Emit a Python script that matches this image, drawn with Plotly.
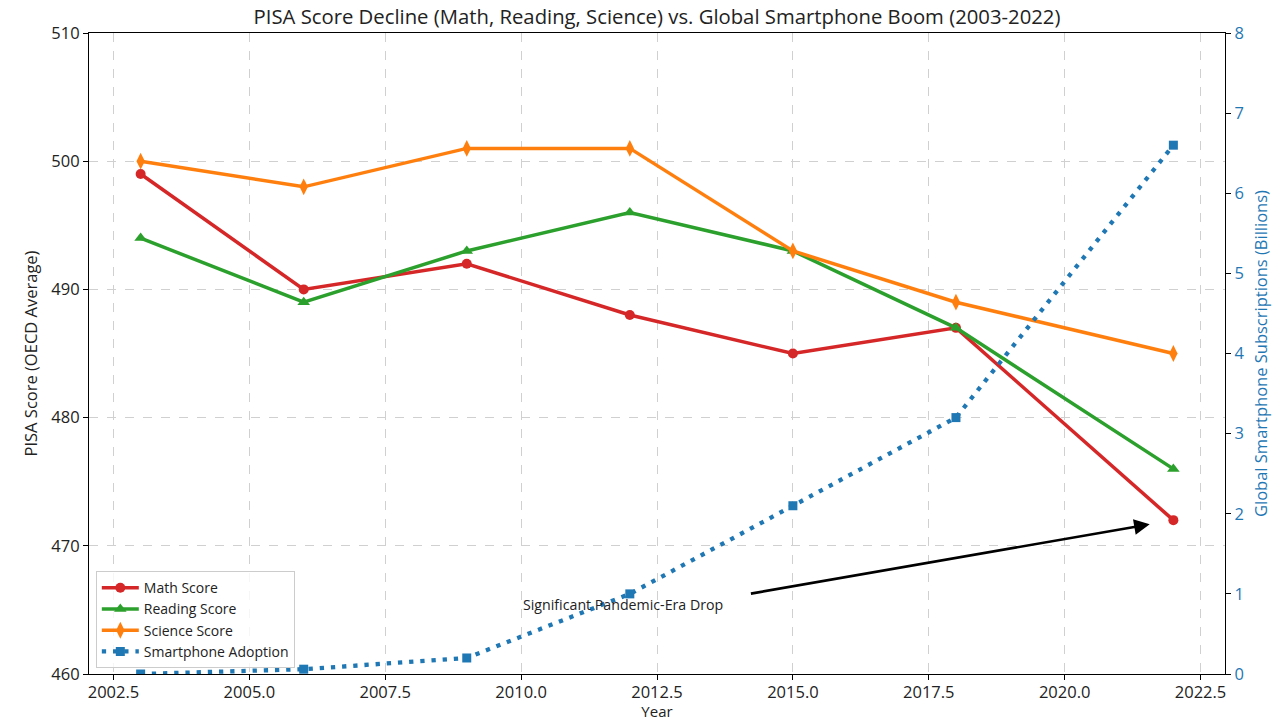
import plotly.graph_objects as go

years = [2003, 2006, 2009, 2012, 2015, 2018, 2022]
math_score = [499, 490, 492, 488, 485, 487, 472]
reading_score = [494, 489, 493, 496, 493, 487, 476]
science_score = [500, 498, 501, 501, 493, 489, 485]
smartphone_billions = [0.0, 0.06, 0.2, 1.0, 2.1, 3.2, 6.6]

x_ticks = [2002.5, 2005.0, 2007.5, 2010.0, 2012.5, 2015.0, 2017.5, 2020.0, 2022.5]
left_ticks = [460, 470, 480, 490, 500, 510]
right_ticks = [0, 1, 2, 3, 4, 5, 6, 7, 8]

FONT = "Open Sans"
TXT = "#222222"
W, H = 1284, 721
fig = go.Figure()
fig.add_trace(go.Scatter(x=years, y=math_score, name="Math Score", mode="lines+markers",
                         line=dict(color="#d62728", width=3.5),
                         marker=dict(symbol="circle", size=10, color="#d62728")))
fig.add_trace(go.Scatter(x=years, y=reading_score, name="Reading Score", mode="lines+markers",
                         line=dict(color="#2ca02c", width=3.5),
                         marker=dict(symbol="triangle-up", size=11, color="#2ca02c")))
fig.add_trace(go.Scatter(x=years, y=science_score, name="Science Score", mode="lines+markers",
                         line=dict(color="#ff7f0e", width=3.5),
                         marker=dict(symbol="diamond-tall", size=12, color="#ff7f0e")))
fig.add_trace(go.Scatter(x=years, y=smartphone_billions, name="Smartphone Adoption", mode="lines+markers",
                         yaxis="y2",
                         line=dict(color="#1f77b4", width=4.3, dash="4.3px,6.9px"),
                         marker=dict(symbol="square", size=9, color="#1f77b4")))

# annotation text (left aligned at its anchor, as in the source)
fig.add_annotation(x=2010, y=465, xref="x", yref="y", showarrow=False,
                   text="Significant Pandemic-Era Drop", xanchor="left", yanchor="bottom",
                   yshift=-6, font=dict(family=FONT, size=14.2, color=TXT))
# arrow pointing to the 2022 math score
fig.add_annotation(x=2022, y=472, xref="x", yref="y", ax=2014.2, ay=466.25, axref="x", ayref="y",
                   text="", showarrow=True,
                   arrowhead=2, arrowsize=1.2, arrowwidth=2.6, arrowcolor="black",
                   standoff=24)

axis_common = dict(showline=True, linecolor="black", linewidth=1.2,
                   ticks="outside", ticklen=5, tickcolor="black", automargin=False,
                   tickfont=dict(family=FONT, size=16.5, color=TXT))

fig.update_layout(
    width=W, height=H,
    margin=dict(l=89, r=59, t=33, b=47, autoexpand=False),
    paper_bgcolor="white", plot_bgcolor="white",
    font=dict(family=FONT, color=TXT),
    title=dict(text="PISA Score Decline (Math, Reading, Science) vs. Global Smartphone Boom (2003-2022)",
               x=(89 + W - 59) / 2 / W, xanchor="center", y=1 - 17 / H, yanchor="middle",
               font=dict(family=FONT, size=20.3, color=TXT)),
    xaxis=dict(range=[2002.05, 2022.95], tickvals=x_ticks, ticktext=[f"{v:.1f}" for v in x_ticks],
               showgrid=True, gridcolor="#d0d0d0", griddash="dash", gridwidth=1,
               ticklabelstandoff=-2,
               title=dict(text="Year", font=dict(family=FONT, size=15, color=TXT), standoff=6),
               zeroline=False, mirror=True, **axis_common),
    yaxis=dict(range=[460, 510], tickvals=left_ticks,
               showgrid=True, gridcolor="#d0d0d0", griddash="dash", gridwidth=1,
               title=dict(text="PISA Score (OECD Average)", font=dict(family=FONT, size=16.5, color=TXT), standoff=9),
               zeroline=False, **axis_common),
    yaxis2=dict(range=[0, 8], tickvals=right_ticks, overlaying="y", side="right",
                showgrid=False, zeroline=False, showline=True, linecolor="black", linewidth=1.2,
                ticks="outside", ticklen=5, tickcolor="black", automargin=False,
                tickfont=dict(family=FONT, size=16.5, color="#1f77b4"),
                title=dict(text="Global Smartphone Subscriptions (Billions)",
                           font=dict(family=FONT, size=16.5, color="#1f77b4"), standoff=12)),
    legend=dict(x=0.006, y=0.009, xanchor="left", yanchor="bottom",
                bgcolor="rgba(255,255,255,0.8)", bordercolor="#cccccc", borderwidth=1,
                itemwidth=37,
                font=dict(family=FONT, size=14, color=TXT), tracegroupgap=0),
    showlegend=True,
)

# remove the default page margin so the figure fills the window exactly; hide the modebar
fig.write_html("out.html", config={"displayModeBar": False},
               post_script="document.body.style.margin='0';")
